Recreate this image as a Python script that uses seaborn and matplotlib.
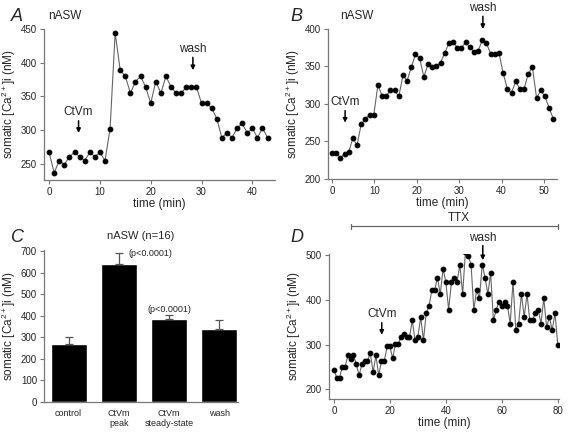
import numpy as np
import pandas as pd
import seaborn as sns
import matplotlib.pyplot as plt

sns.set_theme(style='ticks')
plt.rcParams['font.family'] = ['Liberation Sans', 'DejaVu Sans']
plt.rcParams['mathtext.fontset'] = 'custom'
plt.rcParams['mathtext.rm'] = 'Liberation Sans'

# panel A: nASW, one reading per minute
a_time = np.arange(44)
a_ca = [267, 237, 255, 249, 261, 267, 261, 255, 267, 261, 267, 255, 302, 444,
        389, 380, 355, 372, 380, 364, 340, 372, 355, 380, 364, 355, 355, 364,
        364, 364, 340, 340, 333, 317, 289, 296, 289, 303, 310, 296, 303, 289,
        303, 289]

# panel B: nASW
b_time = np.arange(54) * 0.985
b_ca = [235, 235, 228, 233, 236, 254, 245, 273, 280, 285, 285, 325, 311, 311,
        318, 318, 310, 338, 331, 349, 366, 361, 336, 353, 349, 351, 355, 368,
        381, 383, 375, 375, 382, 376, 369, 371, 385, 381, 367, 367, 368, 341,
        320, 315, 330, 320, 320, 340, 349, 308, 318, 310, 295, 280]

# panel C: means (n=16) with upper error
c_labels = ['control', 'CtVm\npeak', 'CtVm\nsteady-state', 'wash']
c_mean = [269, 640, 386, 340]
c_err = [34, 50, 19, 40]

# panel D: TTX
d_time = np.arange(81)
d_ca = [244, 226, 226, 250, 250, 276, 268, 276, 256, 231, 256, 263, 263, 282,
        238, 276, 231, 263, 263, 296, 296, 269, 302, 302, 317, 324, 317, 317,
        354, 310, 317, 361, 310, 371, 387, 422, 422, 450, 413, 470, 440, 378,
        440, 450, 440, 479, 413, 508, 499, 479, 378, 422, 404, 479, 450, 413,
        460, 354, 378, 396, 387, 396, 387, 347, 441, 332, 347, 413, 362, 413,
        354, 354, 371, 378, 347, 404, 339, 362, 332, 371, 299]

ylab = 'somatic [Ca$^{2+}$]i (nM)'
line_kw = dict(color='#666666', linewidth=0.8, marker='o', markersize=3.4,
               markerfacecolor='black', markeredgecolor='black')
arrow_kw = dict(arrowstyle='-|>', color='black', lw=1.1, mutation_scale=6,
                shrinkA=0, shrinkB=0)
FS = 8.5


def style_axes(ax):
    sns.despine(ax=ax)
    for s in ['left', 'bottom']:
        ax.spines[s].set_color('#777777')
        ax.spines[s].set_linewidth(0.9)
    ax.tick_params(labelsize=7, length=3, width=0.8, color='#777777', pad=2)


def mark(ax, text, x, ytext, y0, y1):
    ax.text(x, ytext, text, ha='center', va='bottom', fontsize=FS)
    ax.annotate('', xy=(x, y1), xytext=(x, y0), arrowprops=arrow_kw,
                annotation_clip=False)


fig = plt.figure(figsize=(5.68, 4.33), dpi=100)

# A
ax = fig.add_axes([0.0775, 0.584, 0.407, 0.349])
sns.lineplot(x=a_time, y=a_ca, ax=ax, **line_kw)
ax.set_xlim(-1, 44.5)
ax.set_ylim(226, 450)
ax.set_xticks([0, 10, 20, 30, 40])
ax.set_yticks([250, 300, 350, 400, 450])
ax.set_xlabel('time (min)', fontsize=FS, labelpad=1)
ax.set_ylabel(ylab, fontsize=FS, labelpad=2)
style_axes(ax)
mark(ax, 'CtVm', 5.8, 318, 314, 296)
mark(ax, 'wash', 28.3, 412, 408, 389)
fig.text(0.085, 0.962, 'nASW', fontsize=FS, va='center')
fig.text(0.02, 0.962, 'A', fontsize=13, style='italic', va='center')

# B
ax = fig.add_axes([0.577, 0.587, 0.403, 0.346])
sns.lineplot(x=b_time, y=b_ca, ax=ax, **line_kw)
ax.set_xlim(-1, 53)
ax.set_ylim(200, 400)
ax.set_xticks([0, 10, 20, 30, 40, 50])
ax.set_yticks([200, 250, 300, 350, 400])
ax.set_xlabel('time (min)', fontsize=FS, labelpad=1)
ax.set_ylabel(ylab, fontsize=FS, labelpad=2)
style_axes(ax)
mark(ax, 'CtVm', 3.1, 295, 291, 275)
mark(ax, 'wash', 35.6, 420, 417, 400)
fig.text(0.598, 0.962, 'nASW', fontsize=FS, va='center')
fig.text(0.512, 0.962, 'B', fontsize=13, style='italic', va='center')

# C
ax = fig.add_axes([0.0775, 0.0716, 0.342, 0.351])
df = pd.DataFrame({'cond': c_labels, 'ca': c_mean})
sns.barplot(data=df, x='cond', y='ca', color='black', width=0.72,
            saturation=1, ax=ax)
ax.errorbar(range(len(c_mean)), c_mean, yerr=[np.zeros(4), c_err], fmt='none',
            ecolor='#555555', elinewidth=0.9, capsize=3, capthick=0.9)
ax.set_xlim(-0.49, 3.38)
ax.set_ylim(0, 705)
ax.set_yticks(range(0, 701, 100))
ax.set_xlabel('')
ax.set_ylabel(ylab, fontsize=FS, labelpad=2)
style_axes(ax)
ax.tick_params(axis='x', length=0, labelsize=6.5, pad=5)
ax.text(1.19, 690, '(p<0.0001)', fontsize=6.5, va='center')
ax.text(2, 431, '(p<0.0001)', fontsize=6.5, va='center', ha='center')
ax.set_title('nASW (n=16)', fontsize=8, pad=8)
fig.text(0.02, 0.452, 'C', fontsize=13, style='italic', va='center')

# D
ax = fig.add_axes([0.579, 0.0785, 0.405, 0.335])
sns.lineplot(x=d_time, y=d_ca, ax=ax, **line_kw)
ax.set_xlim(-1.8, 80.4)
ax.set_ylim(178, 503)
ax.set_xticks([0, 20, 40, 60, 80])
ax.set_yticks([200, 300, 400, 500])
ax.set_xlabel('time (min)', fontsize=FS, labelpad=1)
ax.set_ylabel(ylab, fontsize=FS, labelpad=2)
style_axes(ax)
mark(ax, 'CtVm', 17.1, 355, 349, 322)
mark(ax, 'wash', 53.2, 526, 522, 489)
ax.plot([6, 80], [1.19, 1.19], color='#666666', lw=0.9,
        transform=ax.get_xaxis_transform(), clip_on=False)
for xe in [6, 80]:
    ax.plot([xe, xe], [1.175, 1.205], color='#666666', lw=0.9,
            transform=ax.get_xaxis_transform(), clip_on=False)
ax.text(44.5, 1.205, 'TTX', fontsize=FS, ha='center', va='bottom',
        transform=ax.get_xaxis_transform())
fig.text(0.512, 0.452, 'D', fontsize=13, style='italic', va='center')

fig.savefig('out.png', dpi=100)
